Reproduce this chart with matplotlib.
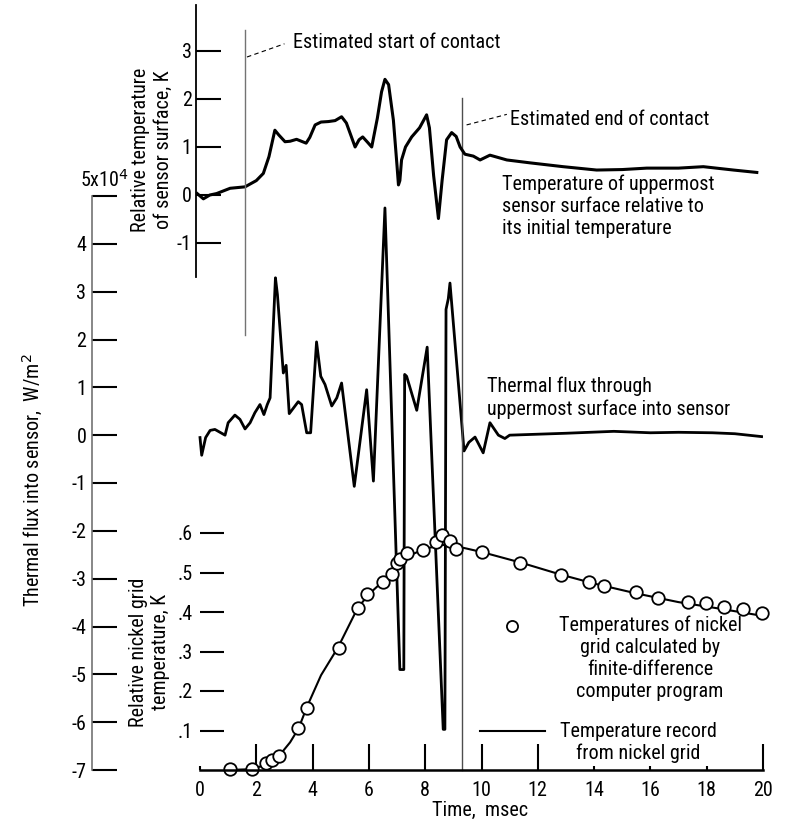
import matplotlib
matplotlib.use("Agg")
import matplotlib.pyplot as plt

plt.rcParams["font.family"] = ["Roboto Condensed", "Liberation Sans Narrow",
                               "Liberation Sans", "DejaVu Sans"]
plt.rcParams["font.size"] = 14.5
plt.rcParams["lines.solid_joinstyle"] = "round"

# uppermost sensor surface temperature relative to its initial value, K
surf_t = [-0.1, 0.12, 0.35, 0.59, 1.07, 1.6, 2.0, 2.25, 2.45, 2.66, 2.8, 3.02, 3.2, 3.43,
          3.6, 3.77, 3.9, 4.09, 4.3, 4.56, 4.8, 5.03, 5.2, 5.51, 5.65, 5.78, 5.95, 6.1,
          6.3, 6.45, 6.57, 6.7, 6.87, 7.0, 7.05, 7.1, 7.16, 7.3, 7.52, 7.8, 8.05, 8.15,
          8.3, 8.47, 8.6, 8.76, 8.94, 9.1, 9.24, 9.41, 9.71, 9.95, 10.3, 10.9, 11.72,
          12.9, 14.09, 15.0, 15.87, 17.0, 17.88, 18.95, 19.78]
surf_T = [0.03, -0.08, 0.0, 0.03, 0.14, 0.17, 0.3, 0.45, 0.8, 1.35, 1.25, 1.11, 1.12, 1.16,
          1.12, 1.08, 1.2, 1.46, 1.52, 1.53, 1.55, 1.63, 1.5, 1.0, 1.15, 1.21, 1.1, 1.0,
          1.6, 2.15, 2.41, 2.3, 1.56, 0.6, 0.21, 0.3, 0.73, 1.0, 1.21, 1.4, 1.67, 1.4,
          0.4, -0.49, 0.3, 1.15, 1.3, 1.22, 1.0, 0.85, 0.81, 0.73, 0.83, 0.73, 0.67,
          0.59, 0.52, 0.53, 0.56, 0.56, 0.59, 0.52, 0.47]

# thermal flux through the uppermost surface, 1e4 W/m^2
flux_t = [0.0, 0.06, 0.2, 0.36, 0.53, 0.89, 1.0, 1.24, 1.42, 1.6, 1.78, 1.95, 2.13, 2.27,
          2.39, 2.49, 2.68, 2.75, 2.96, 3.06, 3.17, 3.49, 3.61, 3.79, 3.93, 4.14, 4.29,
          4.44, 4.68, 4.86, 5.03, 5.48, 5.92, 6.16, 6.57, 7.1, 7.24, 7.27, 7.34, 7.7,
          8.07, 8.64, 8.7, 8.74, 8.82, 8.88, 9.38, 9.55, 9.77, 10.06, 10.3, 10.6, 10.83,
          11.0, 12.0, 13.0, 14.7, 16.0, 17.0, 18.2, 19.0, 19.95]
flux_q = [-0.05, -0.42, -0.05, 0.1, 0.12, 0.0, 0.26, 0.42, 0.33, 0.13, 0.26, 0.47, 0.64,
          0.43, 0.64, 0.78, 3.29, 2.94, 1.3, 1.46, 0.45, 0.7, 0.64, 0.05, 0.05, 1.95, 1.23,
          1.06, 0.61, 0.78, 1.09, -1.07, 0.95, -0.96, 4.75, -4.9, -4.9, 1.27, 1.23, 0.52,
          1.84, -6.15, -6.15, 2.63, 2.85, 3.18, -0.33, -0.15, -0.04, -0.37, 0.26, 0.0,
          -0.07, 0.0, 0.02, 0.04, 0.08, 0.05, 0.06, 0.05, 0.03, -0.03]

# nickel grid temperature, K: finite-difference values and the measured record
calc_t = [1.07, 1.86, 2.33, 2.55, 2.82, 3.49, 3.81, 4.94, 5.62, 5.94, 6.49, 6.81, 6.99,
          7.1, 7.37, 7.91, 8.37, 8.59, 8.88, 9.1, 10.02, 11.37, 12.82, 13.83, 14.35,
          15.48, 16.28, 17.35, 17.97, 18.63, 19.3, 19.95]
calc_T = [0.003, 0.003, 0.018, 0.025, 0.036, 0.107, 0.158, 0.31, 0.409, 0.446, 0.476,
          0.495, 0.523, 0.534, 0.549, 0.557, 0.576, 0.595, 0.58, 0.559, 0.551, 0.525,
          0.494, 0.475, 0.466, 0.45, 0.436, 0.426, 0.424, 0.412, 0.407, 0.398]
rec_t = [1.0, 1.8, 2.3, 2.8, 3.2, 3.5, 3.8, 4.3, 4.9, 5.6, 6.0, 6.5, 7.0, 7.5, 8.0, 8.6,
         9.2, 10.0, 11.4, 12.8, 14.0, 15.5, 17.0, 18.5, 20.0]
rec_T = [0.0, 0.002, 0.012, 0.035, 0.07, 0.105, 0.16, 0.24, 0.31, 0.41, 0.445, 0.478,
         0.52, 0.545, 0.56, 0.57, 0.565, 0.552, 0.525, 0.495, 0.472, 0.447, 0.425, 0.408,
         0.39]

contact_start = 1.6
contact_end = 9.29

surf_ticks = [-1, 0, 1, 2, 3]
flux_ticks = list(range(-7, 6))
flux_labels = [str(v) for v in flux_ticks[:-1]] + [""]
grid_ticks = [0.1, 0.2, 0.3, 0.4, 0.5, 0.6]
grid_labels = [".1", ".2", ".3", ".4", ".5", ".6"]
time_ticks = list(range(0, 21, 2))

W, H = 788, 824
X0, PX_PER_MS = 200, 28.15


def ms(px):
    return (px - X0) / PX_PER_MS


def add_px_axes(fig, left, top, right, bottom):
    return fig.add_axes([left / W, 1 - bottom / H, (right - left) / W, (bottom - top) / H],
                        facecolor="none")


def only_left_spine(ax, color="k", lw=1.3):
    for side in ("top", "right", "bottom"):
        ax.spines[side].set_visible(False)
    ax.spines["left"].set_color(color)
    ax.spines["left"].set_linewidth(lw)


fig = plt.figure(figsize=(W / 100, H / 100), dpi=100)

# thermal flux panel (outer left scale)
ax_q = add_px_axes(fig, 92, 196, 763, 770)
ax_q.set_xlim(ms(92), 20)
ax_q.set_ylim(-7, 5)
only_left_spine(ax_q, color="0.45", lw=1.2)
ax_q.set_xticks([])
ax_q.set_yticks(flux_ticks)
ax_q.set_yticklabels(flux_labels)
ax_q.tick_params(axis="y", direction="in", length=18, width=1.5, pad=4)
ax_q.plot(flux_t, flux_q, color="k", lw=2.0)
ax_q.plot([contact_end, contact_end], [-7, 7.05], color="0.3", lw=1.0, clip_on=False)
ax_q.text(ms(80), 5.1, "5x10$^4$", ha="left", va="bottom")

# sensor surface temperature panel
ax_s = add_px_axes(fig, 196, 5, 763, 277)
ax_s.set_xlim(ms(196), 20)
ax_s.set_ylim(-82 / 48, 190 / 48)
only_left_spine(ax_s, lw=1.3)
ax_s.set_xticks([])
ax_s.set_yticks(surf_ticks)
ax_s.set_yticklabels([str(v) for v in surf_ticks])
ax_s.tick_params(axis="y", direction="in", length=18, width=1.5, pad=3)
ax_s.plot(surf_t, surf_T, color="k", lw=2.2)
ax_s.plot([contact_start, contact_start], [165 / 48, -140 / 48], color="0.45", lw=1.0,
          clip_on=False)
ax_s.plot([1.67, 3.0], [2.875, 3.15], color="k", lw=0.8, ls=(0, (4, 3)), clip_on=False)
ax_s.text(3.3, 3.17, "Estimated start of contact", va="center")
ax_s.plot([9.47, 10.9], [1.46, 1.68], color="k", lw=0.8, ls=(0, (4, 3)), clip_on=False)
ax_s.text(11.0, 1.58, "Estimated end of contact", va="center")
ax_s.text(10.72, 0.42, "Temperature of uppermost\nsensor surface relative to\n"
          "its initial temperature", va="top", linespacing=1.2)
ax_q.text(10.18, 1.23, "Thermal flux through\nuppermost surface into sensor",
          va="top", linespacing=1.25)

# nickel grid panel
ax_g = add_px_axes(fig, 200, 533, 763, 770)
ax_g.set_xlim(0, 20)
ax_g.set_ylim(0, 0.6)
for side in ("top", "right", "left"):
    ax_g.spines[side].set_visible(False)
ax_g.spines["bottom"].set_linewidth(1.8)
ax_g.set_yticks(grid_ticks)
ax_g.set_yticklabels(grid_labels)
ax_g.tick_params(axis="y", direction="in", length=17, width=1.5, pad=5)
ax_g.set_xticks(time_ticks)
ax_g.set_xticklabels([str(v) for v in time_ticks])
ax_g.tick_params(axis="x", direction="in", length=19, width=1.5, pad=8)
for i, tk in enumerate(ax_g.xaxis.get_major_ticks()):
    if time_ticks[i] in (0, 14, 16, 18):
        tk.tick1line.set_markersize(3)
ax_g.plot(rec_t, rec_T, color="k", lw=1.5)
ax_g.plot(calc_t, calc_T, "o", mfc="white", mec="k", ms=9, mew=1.3, clip_on=False)

# key
ax_g.plot([11.07], [0.365], "o", mfc="white", mec="k", ms=8, mew=1.3)
ax_g.text(15.99, 0.39, "Temperatures of nickel\ngrid calculated by\nfinite-difference\n"
          "computer program", ha="center", va="top", linespacing=1.2)
ax_g.plot([9.95, 12.26], [0.099, 0.099], color="k", lw=1.5)
ax_g.text(15.56, 0.122, "Temperature record\nfrom nickel grid", ha="center", va="top",
          linespacing=1.2)

fig.text(480 / W, 1 - 810 / H, "Time,  msec", ha="center", va="center")
fig.text(152 / W, 1 - 150 / H, "Relative temperature\nof sensor surface, K",
         rotation=90, ha="center", va="center", multialignment="center")
fig.text(33 / W, 1 - 480 / H, "Thermal flux into sensor,  W/m$^2$",
         rotation=90, ha="center", va="center")
fig.text(150 / W, 1 - 652 / H, "Relative nickel grid\ntemperature, K",
         rotation=90, ha="center", va="center", multialignment="center")

fig.savefig("out.png", dpi=100)
